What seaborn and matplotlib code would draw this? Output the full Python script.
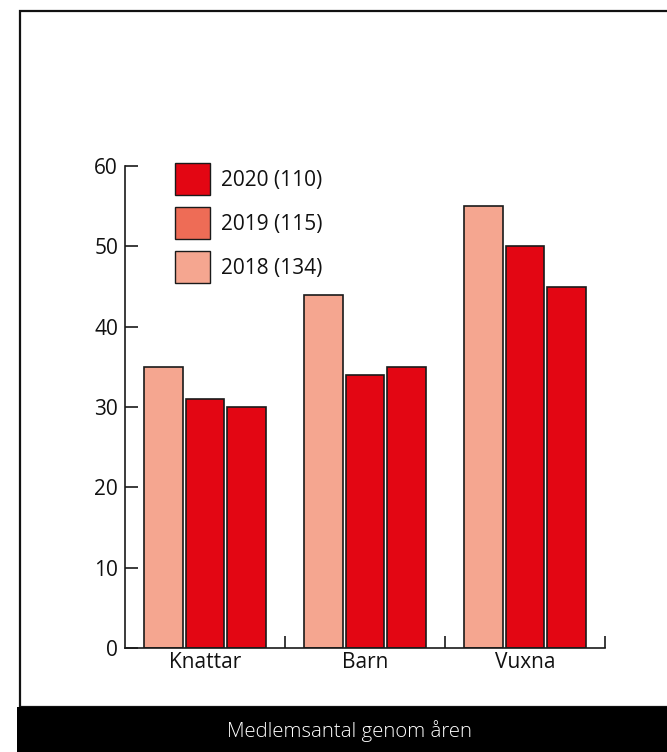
"""Medlemsantal genom åren - grouped bar chart."""

import matplotlib
matplotlib.use("Agg")
import matplotlib.pyplot as plt
from matplotlib.patches import Patch, Rectangle
import pandas as pd
import seaborn as sns

# data
categories = ["Knattar", "Barn", "Vuxna"]
years = ["2018", "2019", "2020"]
values_2018 = [35, 44, 55]
values_2019 = [31, 34, 50]
values_2020 = [30, 35, 45]
legend_labels = ["2020 (110)", "2019 (115)", "2018 (134)"]
caption = "Medlemsantal genom åren"

SALMON = "#F5A690"
ORANGE = "#EE6C56"
RED = "#E30613"

df = pd.DataFrame({
    "kategori": categories * 3,
    "år": [y for y in years for _ in categories],
    "antal": values_2018 + values_2019 + values_2020,
})

sns.set_theme(style="white")
plt.rcParams["font.family"] = ["Open Sans", "DejaVu Sans"]

fig = plt.figure(figsize=(6.67, 7.52), dpi=100)
W, H = 667, 752
ax = fig.add_axes([125 / W, 1 - 648 / H, (605 - 125) / W, (648 - 166) / H])

sns.barplot(data=df, x="kategori", y="antal", hue="år",
            order=categories, hue_order=years,
            palette={"2018": SALMON, "2019": RED, "2020": RED},
            saturation=1, width=0.78, gap=0.07,
            edgecolor="#1a1a1a", linewidth=1.2,
            legend=False, ax=ax)

ax.set_xlim(-0.5, 2.5)
ax.set_ylim(0, 60)
ax.set_yticks(range(0, 61, 10))
ax.set_xlabel("")
ax.set_ylabel("")
sns.despine(ax=ax)
for side in ("left", "bottom"):
    ax.spines[side].set_color("#1a1a1a")
    ax.spines[side].set_linewidth(1.2)

ax.tick_params(axis="y", direction="in", length=9, width=1.2,
               color="#1a1a1a", labelsize=15, pad=5, left=True,
               labelcolor="#111111")
ax.tick_params(axis="x", which="major", length=0, labelsize=15, pad=3,
               labelcolor="#111111")
ax.set_xticks([0.5, 1.5, 2.5], minor=True)
ax.tick_params(axis="x", which="minor", direction="in", length=9,
               width=1.2, color="#1a1a1a", bottom=True)

handles = [Patch(facecolor=c, edgecolor="#1a1a1a", linewidth=1.0)
           for c in (RED, ORANGE, SALMON)]
fig.legend(handles, legend_labels, loc="upper left",
           bbox_to_anchor=(175 / W, 1 - 163 / H), frameon=False,
           fontsize=15, handlelength=1.7, handleheight=2.02,
           handletextpad=0.5, labelspacing=0.55, borderpad=0,
           borderaxespad=0, labelcolor="#111111")

# frame and caption band
fig.add_artist(Rectangle((19.5 / W, 1 - 707 / H), 1.2, (707 - 10.5) / H,
                         transform=fig.transFigure, fill=False,
                         edgecolor="#111111", linewidth=1.6))
fig.add_artist(Rectangle((17 / W, 0), 1.0, (752 - 707) / H,
                         transform=fig.transFigure, facecolor="black",
                         edgecolor="none", zorder=5))
fig.text(350 / W, 1 - 731 / H, caption, color="white", fontsize=14.7,
         fontweight="light", ha="center", va="center", zorder=10)

fig.savefig("out.png", dpi=100)
